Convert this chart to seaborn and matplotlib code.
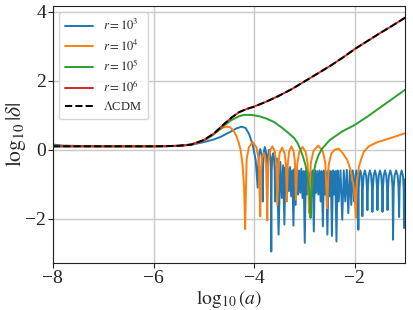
import numpy as np
import pandas as pd
import matplotlib
matplotlib.use("Agg")
import matplotlib.pyplot as plt
import seaborn as sns

# ---------------- data ----------------
lcdm_pts = [(-8, 0.1), (-7, 0.1), (-6, 0.1), (-5.75, 0.105), (-5.5, 0.115), (-5.25, 0.15),
            (-5.0, 0.28), (-4.8, 0.47), (-4.6, 0.74), (-4.45, 0.93), (-4.3, 1.09), (-4.15, 1.18),
            (-4.0, 1.25), (-3.75, 1.4), (-3.5, 1.57), (-3.25, 1.76), (-3.0, 1.98), (-2.75, 2.2),
            (-2.5, 2.42), (-2.25, 2.66), (-2.0, 2.92), (-1.75, 3.15), (-1.5, 3.38), (-1.25, 3.6),
            (-1.0, 3.83)]

r6_pts = list(lcdm_pts)

r5_pts = [(-8, 0.1), (-7, 0.1), (-6, 0.1), (-5.75, 0.105), (-5.5, 0.115), (-5.25, 0.15),
          (-5.0, 0.27), (-4.8, 0.45), (-4.6, 0.7), (-4.45, 0.86), (-4.3, 0.97), (-4.2, 1.01),
          (-4.05, 1.01), (-3.9, 0.97), (-3.75, 0.9), (-3.6, 0.8), (-3.45, 0.64), (-3.3, 0.46),
          (-3.2, 0.33), (-3.14, 0.2), (-3.08, 0.0), (-3.03, -0.2), (-2.98, -0.45), (-2.94, -0.75),
          (-2.91, -1.1), (-2.89, -1.5), (-2.88, -1.98), (-2.87, -1.5), (-2.85, -1.05), (-2.82, -0.7),
          (-2.78, -0.4), (-2.72, -0.15), (-2.65, 0.03), (-2.5, 0.28), (-2.25, 0.53), (-2.0, 0.72),
          (-1.75, 0.96), (-1.5, 1.22), (-1.25, 1.48), (-1.0, 1.74)]

r4_pts = [(-8, 0.1), (-7, 0.1), (-6, 0.1), (-5.75, 0.105), (-5.5, 0.115), (-5.25, 0.15),
          (-5.0, 0.26), (-4.85, 0.4), (-4.72, 0.55), (-4.62, 0.64), (-4.55, 0.67), (-4.48, 0.65),
          (-4.42, 0.57), (-4.36, 0.42), (-4.31, 0.22), (-4.27, 0.0), (-4.23, -0.45), (-4.2, -1.1),
          (-4.18, -2.3),
          (-4.15, -0.28), (-4.105, 0.07), (-4.03, 0.22), (-3.955, 0.07), (-3.91, -0.28), (-3.88, -1.93),
          (-3.866, -0.6), (-3.845, -0.25), (-3.81, -0.1), (-3.775, -0.25), (-3.754, -0.6), (-3.74, -2.05),
          (-3.72, -0.4), (-3.69, -0.05), (-3.64, 0.1), (-3.59, -0.05), (-3.56, -0.4), (-3.54, -1.6),
          (-3.52, -0.44), (-3.493, -0.09), (-3.445, 0.06), (-3.397, -0.09), (-3.369, -0.44), (-3.35, -1.5),
          (-3.332, -0.4), (-3.305, -0.05), (-3.26, 0.1), (-3.215, -0.05), (-3.188, -0.4), (-3.17, -1.45),
          (-3.144, -0.42), (-3.105, -0.07), (-3.04, 0.08), (-2.975, -0.07), (-2.936, -0.42), (-2.91, -1.83),
          (-2.874, -0.38), (-2.82, -0.03), (-2.73, 0.12), (-2.64, -0.03), (-2.586, -0.38), (-2.55, -1.7),
          (-2.52, -0.45), (-2.47, -0.12), (-2.40, 0.0), (-2.32, 0.03), (-2.24, -0.1), (-2.15, -0.3),
          (-2.08, -0.6), (-2.03, -1.0), (-2.0, -1.4), (-1.98, -1.98),
          (-1.97, -1.3), (-1.95, -0.85), (-1.92, -0.5), (-1.88, -0.3), (-1.82, -0.05), (-1.72, 0.1),
          (-1.55, 0.22), (-1.39, 0.29), (-1.2, 0.38), (-1.0, 0.48)]

r3_pts = [(-8.0, 0.15), (-7.8, 0.12), (-7.5, 0.11), (-7.0, 0.1), (-6.5, 0.1), (-6.0, 0.1),
          (-5.75, 0.1), (-5.5, 0.11), (-5.27, 0.14), (-5.0, 0.22), (-4.8, 0.3), (-4.67, 0.37),
          (-4.5, 0.5), (-4.35, 0.62), (-4.25, 0.67), (-4.17, 0.63), (-4.1, 0.45), (-4.03, 0.15),
          (-3.97, -0.3), (-3.93, -1.1),
          (-3.92, -0.48), (-3.905, -0.13), (-3.88, 0.02), (-3.855, -0.13), (-3.84, -0.48), (-3.83, -1.5),
          (-3.821, -0.42), (-3.809, -0.07), (-3.788, 0.08), (-3.766, -0.07), (-3.754, -0.42), (-3.745, -1.45),
          (-3.736, -0.5), (-3.724, -0.15), (-3.703, 0.0), (-3.681, -0.15), (-3.669, -0.5), (-3.66, -2.95),
          (-3.652, -0.6), (-3.641, -0.25), (-3.622, -0.1), (-3.604, -0.25), (-3.593, -0.6), (-3.585, -1.5),
          (-3.55, -0.25), (-3.515, -2.46), (-3.48, -0.35), (-3.45, -1.4), (-3.425, -0.45), (-3.40, -2.17),
          (-3.378, -0.50), (-3.355, -1.30), (-3.333, -0.55), (-3.31, -1.20), (-3.288, -0.50), (-3.265, -1.35),
          (-3.243, -0.60), (-3.22, -2.2), (-3.198, -0.55), (-3.175, -1.60), (-3.153, -0.60), (-3.13, -1.30),
          (-3.108, -0.60), (-3.085, -1.25), (-3.063, -0.55), (-3.04, -1.40), (-3.018, -0.62), (-2.995, -2.70),
          (-2.973, -0.60), (-2.95, -1.30), (-2.928, -0.60), (-2.905, -1.20), (-2.883, -0.65), (-2.86, -1.35),
          (-2.838, -0.60), (-2.815, -2.37), (-2.793, -0.60), (-2.77, -1.25), (-2.748, -0.62), (-2.725, -1.30),
          (-2.703, -0.60), (-2.68, -1.50), (-2.658, -0.62), (-2.635, -2.22), (-2.613, -0.60), (-2.59, -1.30),
          (-2.568, -0.65), (-2.545, -2.46), (-2.523, -0.60), (-2.50, -1.35), (-2.478, -0.62), (-2.455, -2.50),
          (-2.433, -0.60), (-2.41, -1.30), (-2.388, -0.62), (-2.365, -2.66), (-2.343, -0.60), (-2.32, -1.50),
          (-2.285, -0.6), (-2.25, -2.03), (-2.22, -0.6), (-2.19, -1.5), (-2.16, -0.58), (-2.13, -1.84),
          (-2.10, -0.6), (-2.07, -1.6), (-2.04, -0.6), (-2.01, -1.5),
          (-2.002, -1.1), (-1.99, -0.75), (-1.97, -0.6), (-1.95, -0.75), (-1.938, -1.1), (-1.93, -2.32),
          (-1.922, -1.1), (-1.91, -0.75), (-1.89, -0.6), (-1.87, -0.75), (-1.858, -1.1), (-1.85, -1.93),
          (-1.84, -1.1), (-1.825, -0.75), (-1.80, -0.6), (-1.775, -0.75), (-1.76, -1.1), (-1.75, -1.75),
          (-1.74, -1.1), (-1.725, -0.75), (-1.70, -0.6), (-1.675, -0.75), (-1.66, -1.1), (-1.65, -1.8),
          (-1.64, -1.1), (-1.625, -0.75), (-1.60, -0.6), (-1.575, -0.75), (-1.56, -1.1), (-1.55, -1.75),
          (-1.54, -1.1), (-1.525, -0.75), (-1.50, -0.6), (-1.475, -0.75), (-1.46, -1.1), (-1.45, -1.8),
          (-1.44, -1.1), (-1.425, -0.75), (-1.40, -0.6), (-1.375, -0.75), (-1.36, -1.1), (-1.35, -1.75),
          (-1.339, -1.1), (-1.3225, -0.75), (-1.295, -0.6), (-1.2675, -0.75), (-1.251, -1.1), (-1.24, -2.61),
          (-1.228, -1.1), (-1.21, -0.75), (-1.18, -0.6), (-1.15, -0.75), (-1.132, -1.1), (-1.12, -1.95),
          (-1.11, -1.1), (-1.095, -0.75), (-1.07, -0.6), (-1.045, -0.75), (-1.03, -1.1), (-1.02, -2.27),
          (-1.01, -1.1), (-1.0, -0.85)]

labels = [r"$r=10^3$", r"$r=10^4$", r"$r=10^5$", r"$r=10^6$", r"$\Lambda$CDM"]
colors = ["#1f77b4", "#ff7f0e", "#2ca02c", "#d62728", "black"]
xticks = [-8, -6, -4, -2]
yticks = [-2, 0, 2, 4]

# ---------------- plot ----------------
sns.set_style("ticks", {"axes.grid": True})
plt.rcParams["font.family"] = ["Liberation Serif", "DejaVu Serif"]
plt.rcParams["mathtext.fontset"] = "stix"
plt.rcParams["grid.color"] = "#c8c8c8"
plt.rcParams["grid.linewidth"] = 1.0
plt.rcParams["axes.edgecolor"] = "#222222"
plt.rcParams["xtick.color"] = "#222222"
plt.rcParams["ytick.color"] = "#222222"

fig, ax = plt.subplots(figsize=(4.13, 3.10), dpi=100)
fig.subplots_adjust(left=0.128, right=0.981, top=0.981, bottom=0.152)

series = [r3_pts, r4_pts, r5_pts, r6_pts, lcdm_pts]
for i, pts in enumerate(series):
    df = pd.DataFrame(pts, columns=["x", "y"])
    kw = dict(linestyle="--") if i == 4 else {}
    sns.lineplot(data=df, x="x", y="y", ax=ax, color=colors[i], label=labels[i],
                 linewidth=1.4, estimator=None, sort=False, **kw)

ax.set_xlim(-8, -1)
ax.set_ylim(-3.28, 4.17)
ax.set_xticks(xticks)
ax.set_yticks(yticks)
ax.tick_params(labelsize=14, length=3.5, pad=1.5)
ax.set_xlabel(r"$\log_{10}(a)$", fontsize=14, labelpad=0.5)
ax.set_ylabel(r"$\log_{10}|\delta|$", fontsize=15.5, labelpad=-2)
for s in ax.spines.values():
    s.set_visible(True)
ax.legend(loc="upper left", fontsize=9, framealpha=0.8, handlelength=2.2,
          labelspacing=0.4, handletextpad=0.8, borderpad=0.5)

fig.savefig("out.png", dpi=100)
